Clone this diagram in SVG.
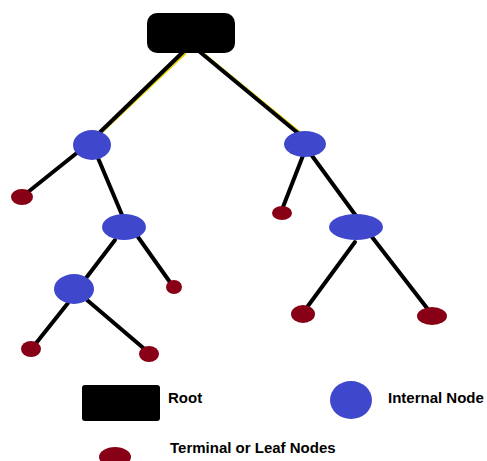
<svg xmlns="http://www.w3.org/2000/svg" width="487" height="461" viewBox="0 0 487 461">
<style>
.edge{stroke:#000;stroke-width:4;stroke-linecap:round;fill:none}
.tint{stroke:#e6d400;stroke-width:2;fill:none}
.internal{fill:#3f48cc}
.leaf{fill:#880015}
.root{fill:#000}
.lbl{font-family:"Liberation Sans",Arial,sans-serif;font-weight:bold;font-size:15px;fill:#000}
</style>
<rect width="487" height="461" fill="#fff"/>
<g id="connectors">
<line class="tint" x1="203" y1="53" x2="307" y2="138"/>
<line class="tint" x1="186" y1="53" x2="98" y2="136"/>
<line class="edge" x1="183" y1="52" x2="95" y2="137"/>
<line class="edge" x1="200" y1="52" x2="305" y2="139"/>
<line class="edge" x1="78" y1="152" x2="28" y2="192"/>
<line class="edge" x1="98" y1="158" x2="125" y2="222"/>
<line class="edge" x1="138" y1="237" x2="172" y2="285"/>
<line class="edge" x1="115" y1="240" x2="83" y2="282"/>
<line class="edge" x1="68" y1="303" x2="33" y2="347"/>
<line class="edge" x1="87" y1="300" x2="148" y2="352"/>
<line class="edge" x1="304" y1="153" x2="283" y2="207"/>
<line class="edge" x1="310" y1="153" x2="359" y2="220"/>
<line class="edge" x1="355" y1="242" x2="305" y2="310"/>
<line class="edge" x1="372" y1="237" x2="430" y2="312"/>
</g>
<g id="root"><rect class="root" x="147" y="13" width="88" height="40" rx="10"/></g>
<g id="nodeA"><ellipse class="internal" cx="92" cy="145" rx="19" ry="15"/></g>
<g id="nodeB"><ellipse class="internal" cx="124" cy="227" rx="22" ry="13"/></g>
<g id="nodeC"><ellipse class="internal" cx="74" cy="289" rx="20" ry="15"/></g>
<g id="nodeD"><ellipse class="internal" cx="305" cy="144" rx="21" ry="13"/></g>
<g id="nodeE"><ellipse class="internal" cx="356" cy="227" rx="27" ry="13"/></g>
<g id="leaf1"><ellipse class="leaf" cx="22" cy="197" rx="11" ry="8"/></g>
<g id="leaf2"><ellipse class="leaf" cx="174" cy="287" rx="8" ry="7"/></g>
<g id="leaf3"><ellipse class="leaf" cx="31" cy="349" rx="10" ry="8"/></g>
<g id="leaf4"><ellipse class="leaf" cx="149" cy="354" rx="10" ry="8"/></g>
<g id="leaf5"><ellipse class="leaf" cx="282" cy="213" rx="10" ry="7"/></g>
<g id="leaf6"><ellipse class="leaf" cx="303" cy="314" rx="12" ry="9"/></g>
<g id="leaf7"><ellipse class="leaf" cx="432" cy="316" rx="15" ry="9"/></g>
<g id="legend">
<rect class="root" x="82" y="385" width="78" height="36" rx="3"/>
<text class="lbl" x="168" y="403">Root</text>
<ellipse class="internal" cx="351" cy="400" rx="21" ry="19"/>
<text class="lbl" x="388" y="403">Internal Node</text>
<ellipse class="leaf" cx="115" cy="457" rx="16" ry="10"/>
<text class="lbl" x="170" y="453">Terminal or Leaf Nodes</text>
</g>
</svg>
